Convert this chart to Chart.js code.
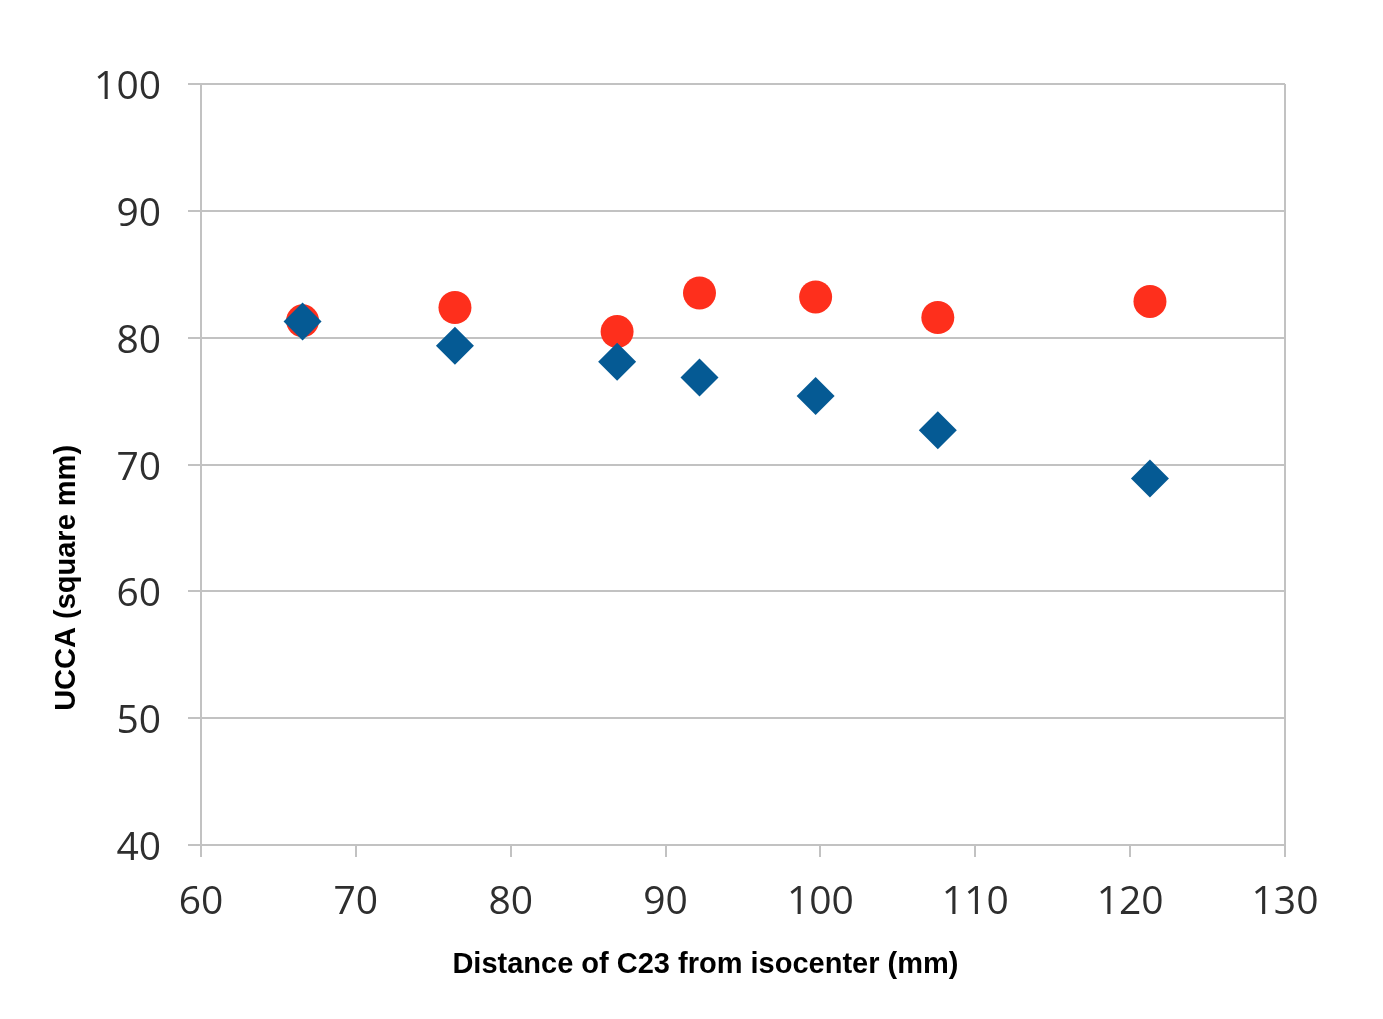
<!DOCTYPE html>
<html>
<head>
<meta charset="utf-8">
<script src="https://cdn.jsdelivr.net/npm/chart.js@4/dist/chart.umd.min.js"></script>
<style>
html,body{margin:0;padding:0;background:#fff;}
#wrap{width:1383px;height:1019px;position:relative;}
</style>
</head>
<body>
<div id="wrap"><canvas id="c" width="1383" height="1019"></canvas></div>
<script>
const distances = [66.56, 76.40, 86.87, 92.19, 99.69, 107.58, 121.28];
const seriesDiamond = [81.27, 79.37, 78.10, 76.86, 75.40, 72.70, 68.89];
const seriesCircle = [81.33, 82.38, 80.48, 83.52, 83.21, 81.59, 82.86];
const xTicks = [60, 70, 80, 90, 100, 110, 120, 130];
const yTicks = [40, 50, 60, 70, 80, 90, 100];
const xTitle = 'Distance of C23 from isocenter (mm)';
const yTitle = 'UCCA (square mm)';

const gridCol = '#c2c2c2';
const tickFont = {family: '"Open Sans", sans-serif', size: 39};
const titleFontCss = 'bold 29px "Liberation Sans", Arial, sans-serif';

// Axis titles, placed as in the original (offset from the plot centre)
const axisTitles = {
  id: 'axisTitles',
  afterDraw(chart) {
    const ctx = chart.ctx;
    const a = chart.chartArea;
    ctx.save();
    ctx.font = titleFontCss;
    ctx.fillStyle = '#000';
    ctx.textAlign = 'center';
    ctx.textBaseline = 'middle';
    ctx.fillText(xTitle, a.left + (a.right - a.left) * 0.4653, a.bottom + 120);
    ctx.translate(67, a.top + (a.bottom - a.top) * 0.649);
    ctx.rotate(-Math.PI / 2);
    ctx.fillText(yTitle, 0, 0);
    ctx.restore();
  }
};

new Chart(document.getElementById('c'), {
  type: 'scatter',
  data: {
    datasets: [
      {
        label: 'diamond',
        data: distances.map((x, i) => ({x, y: seriesDiamond[i]})),
        pointStyle: 'rectRot',
        pointRadius: 19,
        backgroundColor: '#055a94',
        borderColor: '#055a94',
        borderWidth: 0
      },
      {
        label: 'circle',
        data: distances.map((x, i) => ({x, y: seriesCircle[i]})),
        pointStyle: 'circle',
        pointRadius: 16.5,
        backgroundColor: '#fe2f1c',
        borderColor: '#fe2f1c',
        borderWidth: 0
      }
    ]
  },
  plugins: [axisTitles],
  options: {
    responsive: false,
    animation: false,
    devicePixelRatio: 1,
    layout: {padding: {left: 0, right: 98, top: 84, bottom: 0}},
    plugins: {legend: {display: false}, tooltip: {enabled: false}},
    scales: {
      x: {
        type: 'linear',
        min: 60, max: 130,
        afterBuildTicks: s => { s.ticks = xTicks.map(v => ({value: v})); },
        afterFit: s => { s.height = 174; },
        border: {display: true, color: gridCol, width: 2},
        grid: {
          drawOnChartArea: true,
          color: ctx => (ctx.tick && ctx.tick.value === 130) ? gridCol : 'rgba(0,0,0,0)',
          tickColor: gridCol,
          tickLength: 12,
          lineWidth: 2
        },
        ticks: {font: tickFont, color: '#2e2e2e', padding: 22, maxRotation: 0, autoSkip: false},
        title: {display: false}
      },
      y: {
        type: 'linear',
        min: 40, max: 100,
        afterBuildTicks: s => { s.ticks = yTicks.map(v => ({value: v})); },
        afterFit: s => { s.width = 201; },
        border: {display: true, color: gridCol, width: 2},
        grid: {color: gridCol, tickColor: gridCol, tickLength: 13, lineWidth: 2},
        ticks: {font: tickFont, color: '#2e2e2e', padding: 27, labelOffset: 4, autoSkip: false},
        title: {display: false}
      }
    }
  }
});
</script>
</body>
</html>
